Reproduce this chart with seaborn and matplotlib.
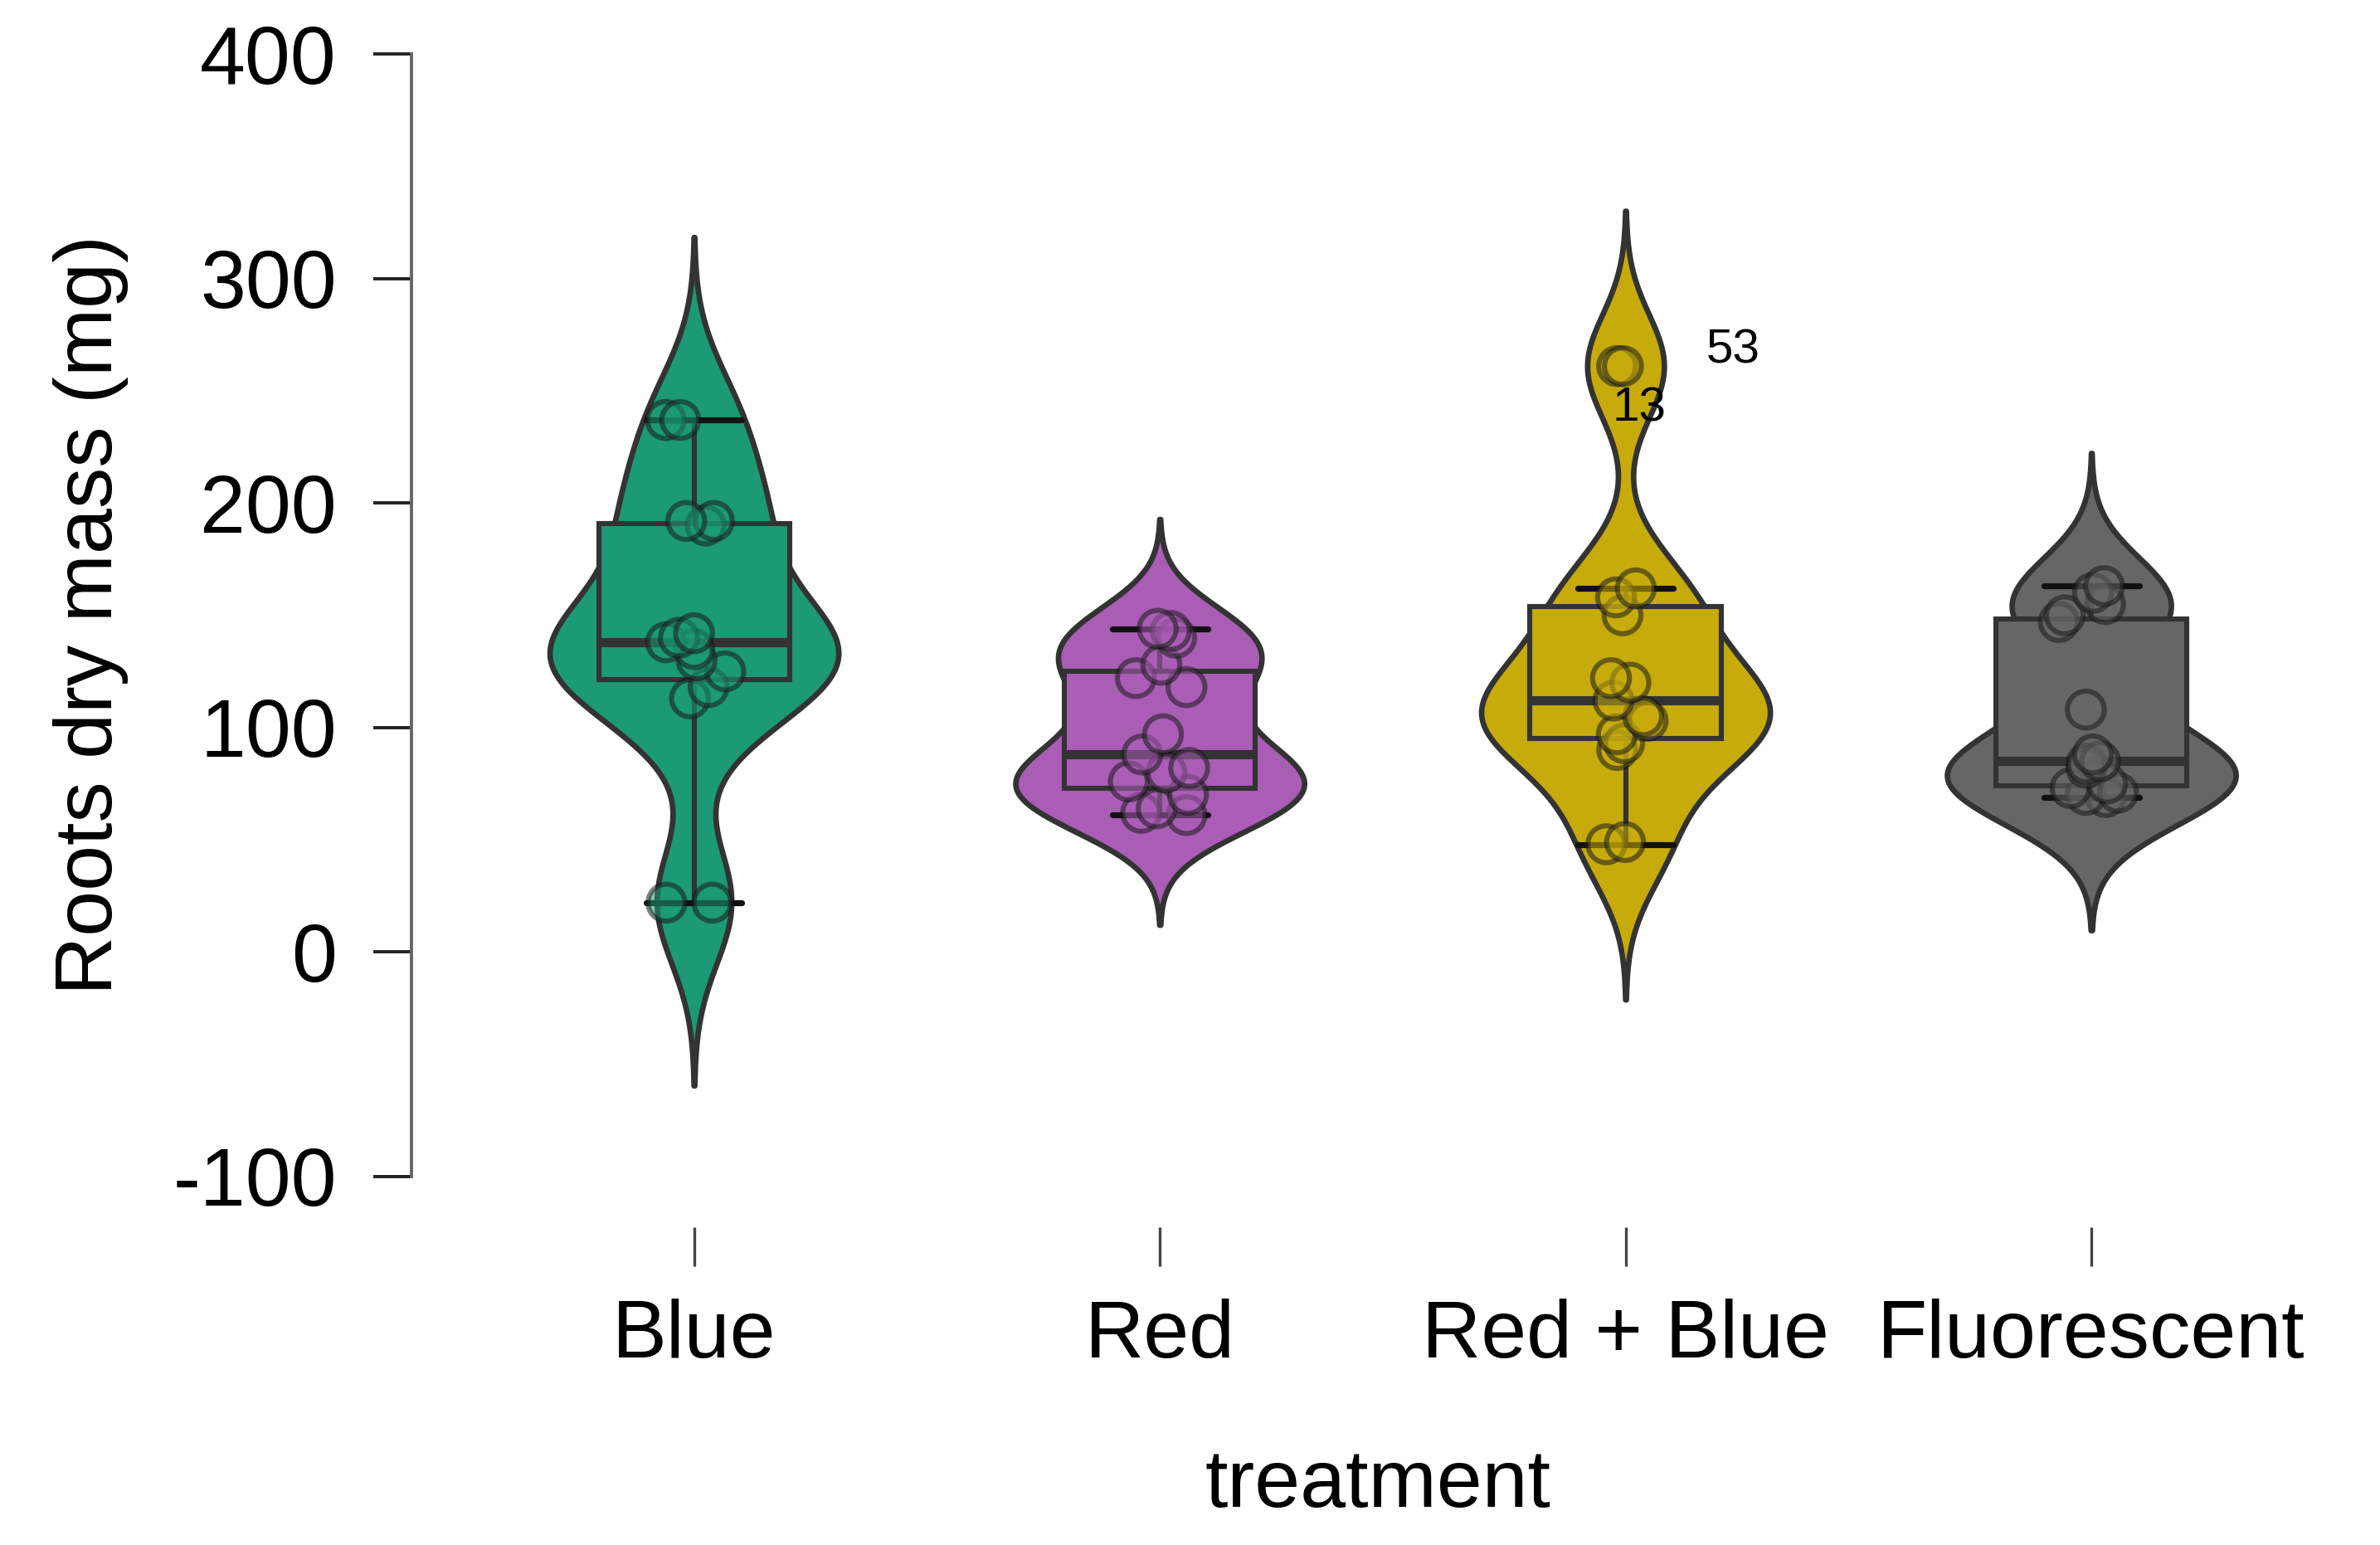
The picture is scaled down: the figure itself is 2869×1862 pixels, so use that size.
import numpy as np
import pandas as pd
import seaborn as sns
import matplotlib
matplotlib.use("Agg")
import matplotlib.pyplot as plt

# values (mg), 15 plants per treatment
treatments = ["Blue", "Red", "Red + Blue", "Fluorescent"]
blue_vals = [22, 22, 113, 118, 125, 130, 135, 138, 140, 142, 190, 192, 192, 237, 237]
red_vals = [61, 62, 64, 70, 76, 80, 82, 88, 97, 118, 122, 128, 140, 143, 144]
redblue_vals = [48, 49, 90, 93, 97, 103, 105, 112, 120, 122, 150, 158, 162, 261, 261]
fluo_vals = [69, 70, 71, 73, 75, 82, 84, 85, 88, 108, 147, 150, 155, 160, 163]
colors = ["#1b9a73", "#a95db5", "#c6ab0b", "#666666"]
outlier_labels = ["13", "53"]
outlier_value = 261

df = pd.DataFrame({
    "treatment": np.repeat(treatments, [len(blue_vals), len(red_vals), len(redblue_vals), len(fluo_vals)]),
    "mass": blue_vals + red_vals + redblue_vals + fluo_vals,
})


def nrd0(kde):
    # R's default bandwidth (bw.nrd0), given as a factor of the sd
    x = kde.dataset[0]
    sd = np.std(x, ddof=1)
    iqr = np.subtract(*np.percentile(x, [75, 25]))
    bw = 0.9 * min(sd, iqr / 1.34) * len(x) ** -0.2
    return bw / sd


sns.set_style("ticks")
plt.rcParams["font.family"] = ["Liberation Sans", "DejaVu Sans"]
plt.rcParams["axes.unicode_minus"] = False
plt.rcParams["text.color"] = "black"
plt.rcParams["axes.labelcolor"] = "black"
plt.rcParams["xtick.labelcolor"] = "black"
plt.rcParams["ytick.labelcolor"] = "black"

fig = plt.figure(figsize=(2869 / 200, 1862 / 200), dpi=200)
ax = fig.add_axes([0.1729, 0.2385, 0.985 - 0.1729, 0.965 - 0.2385])

outline = "#333333"
sns.violinplot(data=df, x="treatment", y="mass", hue="treatment", order=treatments,
               hue_order=treatments, palette=colors, legend=False, inner=None,
               density_norm="width", width=0.62, cut=3, bw_method=nrd0, gridsize=300,
               saturation=1, linecolor=outline, linewidth=2.4, ax=ax)

sns.boxplot(data=df, x="treatment", y="mass", hue="treatment", order=treatments,
            hue_order=treatments, palette=colors, legend=False, width=0.41,
            showfliers=False, saturation=1, linecolor=outline, linewidth=2.2,
            medianprops=dict(linewidth=4), capprops=dict(color="#111111", linewidth=2.6),
            ax=ax)

np.random.seed(7)
sns.stripplot(data=df, x="treatment", y="mass", hue="treatment", order=treatments,
              hue_order=treatments, palette=colors, legend=False, jitter=0.07,
              size=16, alpha=0.55, edgecolor="#1a1a1a", linewidth=2.2, zorder=5, ax=ax)

# row labels of the two outliers in Red + Blue
ax.text(2.03, outlier_value - 19, outlier_labels[0], fontsize=21, ha="center", va="center")
ax.text(2.23, outlier_value + 7, outlier_labels[1], fontsize=21, ha="center", va="center")

ax.set_xlim(-0.6066, 3.543)
ax.set_ylim(-100, 400)
ax.set_yticks([-100, 0, 100, 200, 300, 400])

ax.spines["top"].set_visible(False)
ax.spines["right"].set_visible(False)
ax.spines["left"].set_bounds(-100, 400)
ax.spines["left"].set_color("#666666")
ax.spines["left"].set_linewidth(1.4)
ax.spines["bottom"].set_position(("outward", 22))
ax.spines["bottom"].set_color("none")

ax.tick_params(axis="y", direction="out", length=16.5, width=1.4, color="#222222",
               pad=16, labelsize=35.5)
ax.tick_params(axis="x", direction="out", length=17, width=1.2, color="#444444",
               pad=14, labelsize=35.5)

ax.set_xlabel("treatment", fontsize=35.5, labelpad=32)
ax.set_ylabel("Roots dry mass (mg)", fontsize=35.5, labelpad=19)

fig.savefig("out.png", dpi=200, facecolor="white")
